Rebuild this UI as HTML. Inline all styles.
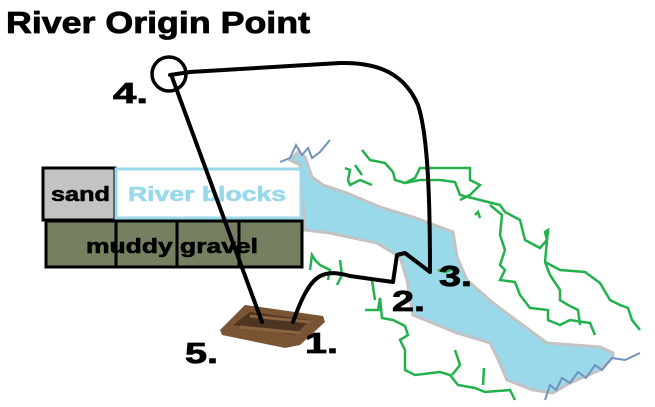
<!DOCTYPE html>
<html><head><style>
html,body{margin:0;padding:0;background:#fff;width:655px;height:407px;overflow:hidden}
svg{display:block}
text{font-family:"Liberation Sans",Arial,sans-serif;font-weight:bold}
</style></head><body>
<svg width="655" height="407" viewBox="0 0 655 407" xmlns="http://www.w3.org/2000/svg">
<rect width="655" height="407" fill="#fff"/>
<text x="6" y="33" font-size="31" fill="#000" stroke="#000" stroke-width="0.8" textLength="304" lengthAdjust="spacingAndGlyphs">River Origin Point</text>

<!-- river -->
<polygon points="290,160 298,152 305,157 312,177 323,185 347,193 380,207 413,217 453,232 457,257 467,280 493,303 520,323 547,343 600,347 613,353 613,357 600,370 570,383 553,393 533,390 507,380 497,357 490,343 457,333 413,315 407,280 400,257 377,243 330,233 305,230 300,165" fill="#99d9ea" stroke="#c3c3c3" stroke-width="3"/>
<polyline points="280,162 290,158 296,145 302,155 308,148 312,158 320,152 330,140" fill="none" stroke="#7092be" stroke-width="2"/>
<polyline points="545,400 550,385 556,390 562,378 570,383 578,372 586,378 595,365 602,370 612,358 625,360 640,353" fill="none" stroke="#7092be" stroke-width="2"/>

<!-- green streams -->
<g fill="none" stroke="#22b14c" stroke-width="2.5">
<polyline points="362,150 370,160 385,163 393,172 395,180 405,183 415,178 420,168 440,168 470,168 470,180 480,185 470,195 460,200"/>
<polyline points="405,183 420,180 440,180 455,182 460,195 480,200 500,205 505,212 520,220 525,240 540,248 547,240 545,232 548,230 545,262 550,275 560,290 560,300 568,305 578,310 580,325"/>
<polyline points="490,205 502,215 500,235 505,250 500,265 505,270 500,280 515,282 520,295 530,308 548,310 548,320 560,325 570,320 590,323 595,335"/>
<polyline points="545,262 560,270 585,272 600,283 610,300 620,305 628,308 632,320 640,330"/>
<polyline points="475,215 478,212 480,218"/>
<polyline points="345,168 350,170 348,180 350,185 360,180 372,185"/>
<polyline points="355,165 362,175"/>
<polyline points="310,270 312,255 315,260 320,265 330,270 328,280"/>
<polyline points="340,260 342,275 337,285"/>
<polyline points="365,310 380,310 378,310 380,298 382,318 393,320 405,326 408,335 400,340 405,350 405,370 415,375 440,372 450,375 458,385 475,388 485,392 510,390 515,400"/>
<polyline points="375,300 372,280"/>
<polyline points="455,350 460,365 452,375"/>
<polyline points="484,368 483,385"/>
<polyline points="438,270 445,272 455,268"/>
</g>

<!-- table -->
<rect x="43" y="168" width="72" height="52" fill="#c3c3c3" stroke="#000" stroke-width="3"/>
<rect x="116" y="169" width="185" height="49" fill="#fff" stroke="#99d9ea" stroke-width="3"/>
<text x="51" y="201" font-size="20" fill="#000" stroke="#000" stroke-width="0.6" textLength="59" lengthAdjust="spacingAndGlyphs">sand</text>
<text x="128" y="201" font-size="20" fill="#99d9ea" stroke="#99d9ea" stroke-width="0.6" textLength="158" lengthAdjust="spacingAndGlyphs">River blocks</text>
<rect x="46" y="221" width="256" height="46" fill="#758061" stroke="#000" stroke-width="3"/>
<line x1="116" y1="220" x2="116" y2="268" stroke="#000" stroke-width="3"/>
<line x1="177" y1="220" x2="177" y2="268" stroke="#000" stroke-width="3"/>
<line x1="239" y1="220" x2="239" y2="268" stroke="#000" stroke-width="3"/>
<text x="86" y="253" font-size="20" fill="#000" stroke="#000" stroke-width="0.6" textLength="172" lengthAdjust="spacingAndGlyphs">muddy gravel</text>

<!-- boat -->
<polygon points="220,330 245,305 260,307 323,316 325,322 300,345 285,348 222,335" fill="#7a5533"/>
<polygon points="233,325 250,312 310,320 295,335" fill="#4d3521"/>
<line x1="240" y1="327" x2="300" y2="333" stroke="#8b6440" stroke-width="3"/>
<line x1="250" y1="316" x2="310" y2="322" stroke="#8b6440" stroke-width="3"/>

<!-- black paths -->
<g fill="none" stroke="#000" stroke-width="4" stroke-linecap="round" stroke-linejoin="round">
<circle cx="169" cy="74" r="17" stroke-width="3.5"/>
<line x1="172" y1="77" x2="262" y2="322"/>
<path d="M170,75 L190,72 L340,63 C380,62 405,75 418,105 C428,135 430,200 430,272 L405,253 L397,255 L393,282 L350,276 C320,268 310,275 293,322"/>
</g>

<g fill="#000" stroke="#000" stroke-width="0.8">
<text x="113" y="103" font-size="29" textLength="35" lengthAdjust="spacingAndGlyphs">4.</text>
<text x="305" y="353" font-size="29" textLength="33" lengthAdjust="spacingAndGlyphs">1.</text>
<text x="392" y="311" font-size="29" textLength="33" lengthAdjust="spacingAndGlyphs">2.</text>
<text x="439" y="286" font-size="29" textLength="33" lengthAdjust="spacingAndGlyphs">3.</text>
<text x="185" y="363" font-size="29" textLength="33" lengthAdjust="spacingAndGlyphs">5.</text>
</g>
</svg>
</body></html>
